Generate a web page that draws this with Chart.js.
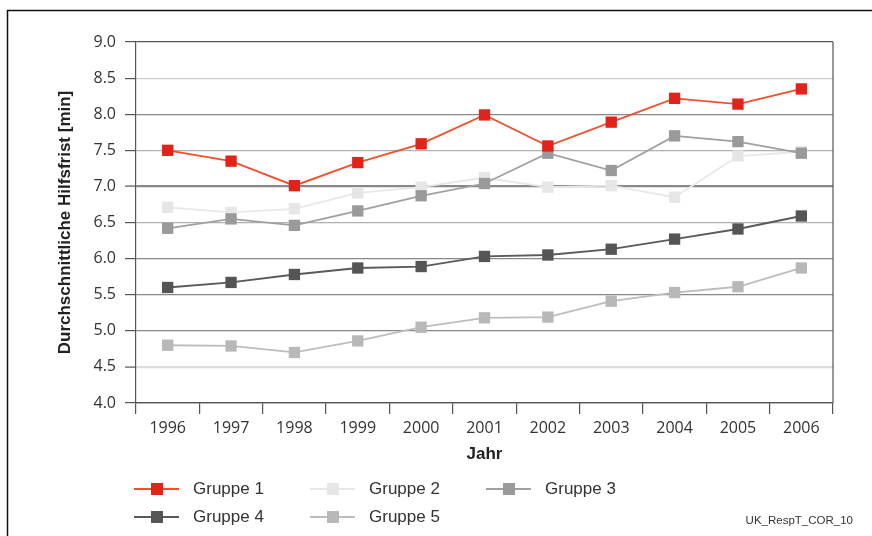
<!DOCTYPE html>
<html>
<head>
<meta charset="utf-8">
<script src="https://cdn.jsdelivr.net/npm/chart.js@4"></script>
<style>
  html, body { margin: 0; padding: 0; background: #fff; }
  #wrap { position: relative; width: 872px; height: 536px; }
</style>
</head>
<body>
<div id="wrap"><canvas id="chart" width="872" height="536"></canvas></div>
<script>
// Data
const years = ['1996', '1997', '1998', '1999', '2000', '2001', '2002', '2003', '2004', '2005', '2006'];
const gruppe1 = [7.50, 7.35, 7.01, 7.33, 7.59, 7.99, 7.56, 7.89, 8.22, 8.14, 8.35];
const gruppe2 = [6.71, 6.64, 6.69, 6.91, 6.99, 7.12, 6.99, 7.01, 6.85, 7.42, 7.48];
const gruppe3 = [6.42, 6.55, 6.46, 6.66, 6.87, 7.04, 7.46, 7.22, 7.70, 7.62, 7.46];
const gruppe4 = [5.60, 5.67, 5.78, 5.87, 5.89, 6.03, 6.05, 6.13, 6.27, 6.41, 6.59];
const gruppe5 = [4.80, 4.79, 4.70, 4.86, 5.05, 5.18, 5.19, 5.41, 5.53, 5.61, 5.87];
const yMin = 4.0;
const yMax = 9.0;
const yStep = 0.5;
const seriesNames = ['Gruppe 1', 'Gruppe 2', 'Gruppe 3', 'Gruppe 4', 'Gruppe 5'];
const footnote = 'UK_RespT_COR_10';

// Styles
const lineColors = ['#f0502a', '#e8e8e8', '#a0a0a0', '#5a5a5a', '#bdbdbd'];
const markColors = ['#e2231a', '#e6e6e6', '#9a9a9a', '#555555', '#b8b8b8'];
const drawOrder = [0, 2, 1, 3, 4]; // lower is drawn on top

function makeSet(i, values) {
    return {
        label: seriesNames[i],
        data: values,
        order: drawOrder[i],
        borderColor: lineColors[i],
        backgroundColor: markColors[i],
        pointBackgroundColor: markColors[i],
        pointBorderColor: markColors[i],
        pointBorderWidth: 0,
        pointStyle: 'rect',
        pointRadius: 8,
        borderWidth: 1.8,
        tension: 0,
        fill: false
    };
}

// grid colour per tick value
function gridColor(ctx) {
    const v = ctx.tick ? Math.round(ctx.tick.value * 10) / 10 : 0;
    if (v === 9.0 || v === 4.0) return '#555';
    if (v === 8.5) return '#d0d0d0';
    if (v === 4.5) return '#dcdcdc';
    if (v === 7.5 || v === 6.5) return '#b0b0b0';
    return '#888';
}
function gridWidth(ctx) {
    const v = ctx.tick ? Math.round(ctx.tick.value * 10) / 10 : 0;
    if (v === 7.0 || v === 4.5) return 2.2;
    return 1.2;
}

// legend + frame drawn by hand to mimic the 3 column layout
const decorPlugin = {
    id: 'decor',
    afterDraw(chart) {
        const ctx = chart.ctx;
        const area = chart.chartArea;
        ctx.save();
        // outer frame (top + left)
        ctx.strokeStyle = '#111';
        ctx.lineWidth = 1.5;
        ctx.beginPath();
        ctx.moveTo(872, 10.5);
        ctx.lineTo(7.5, 10.5);
        ctx.lineTo(7.5, 536);
        ctx.stroke();
        // right border of plot
        ctx.strokeStyle = '#555';
        ctx.lineWidth = 1.2;
        ctx.beginPath();
        ctx.moveTo(area.right, area.top);
        ctx.lineTo(area.right, area.bottom);
        ctx.stroke();

        const slots = [
            { x: 134, y: 489 }, { x: 310, y: 489 }, { x: 486, y: 489 },
            { x: 134, y: 517 }, { x: 310, y: 517 }
        ];
        ctx.font = '17px "Liberation Sans", Arial, sans-serif';
        ctx.textBaseline = 'middle';
        chart.data.datasets.forEach(function(ds, i) {
            const s = slots[i];
            ctx.strokeStyle = ds.borderColor;
            ctx.lineWidth = 1.8;
            ctx.beginPath();
            ctx.moveTo(s.x, s.y);
            ctx.lineTo(s.x + 45, s.y);
            ctx.stroke();
            ctx.fillStyle = ds.pointBackgroundColor;
            ctx.fillRect(s.x + 17, s.y - 6, 12, 12);
            ctx.fillStyle = '#333';
            ctx.textAlign = 'left';
            ctx.fillText(ds.label, s.x + 59, s.y);
        });
        ctx.font = '11.5px "Liberation Sans", Arial, sans-serif';
        ctx.fillStyle = '#333';
        ctx.textAlign = 'right';
        ctx.fillText(footnote, 853, 521);
        ctx.restore();
    }
};

const chartCtx = document.getElementById('chart').getContext('2d');
new Chart(chartCtx, {
    type: 'line',
    data: {
        labels: years,
        datasets: [
            makeSet(0, gruppe1),
            makeSet(1, gruppe2),
            makeSet(2, gruppe3),
            makeSet(3, gruppe4),
            makeSet(4, gruppe5)
        ]
    },
    options: {
        responsive: false,
        animation: false,
        layout: {
            padding: { left: 55, right: 39, top: 42, bottom: 71 }
        },
        plugins: {
            legend: { display: false },
            tooltip: { enabled: false }
        },
        scales: {
            x: {
                offset: true,
                afterFit: function(scale) { scale.height = 62; },
                grid: {
                    offset: true,
                    drawOnChartArea: false,
                    tickLength: 11,
                    color: '#555',
                    lineWidth: 1.2
                },
                border: { color: '#555', width: 1.2 },
                ticks: {
                    color: '#333',
                    padding: 5,
                    maxRotation: 0,
                    font: { family: '"Open Sans", sans-serif', size: 16 }
                },
                title: {
                    display: true,
                    text: 'Jahr',
                    color: '#222',
                    padding: 0,
                    font: { family: '"Liberation Sans", Arial, sans-serif', size: 17, weight: 'bold' }
                }
            },
            y: {
                min: yMin,
                max: yMax,
                afterFit: function(scale) { scale.width = 81; },
                grid: {
                    color: gridColor,
                    lineWidth: gridWidth,
                    tickLength: 11,
                    tickColor: '#555',
                    tickWidth: 1.2
                },
                border: { color: '#555', width: 1.2 },
                ticks: {
                    stepSize: yStep,
                    color: '#333',
                    padding: 9,
                    font: { family: '"Open Sans", sans-serif', size: 16 },
                    callback: function(v) { return Number(v).toFixed(1); }
                },
                title: {
                    display: true,
                    text: 'Durchschnittliche Hilfsfrist [min]',
                    color: '#222',
                    padding: 0,
                    font: { family: '"Liberation Sans", Arial, sans-serif', size: 17, weight: 'bold' }
                }
            }
        }
    },
    plugins: [decorPlugin]
});
</script>
</body>
</html>
